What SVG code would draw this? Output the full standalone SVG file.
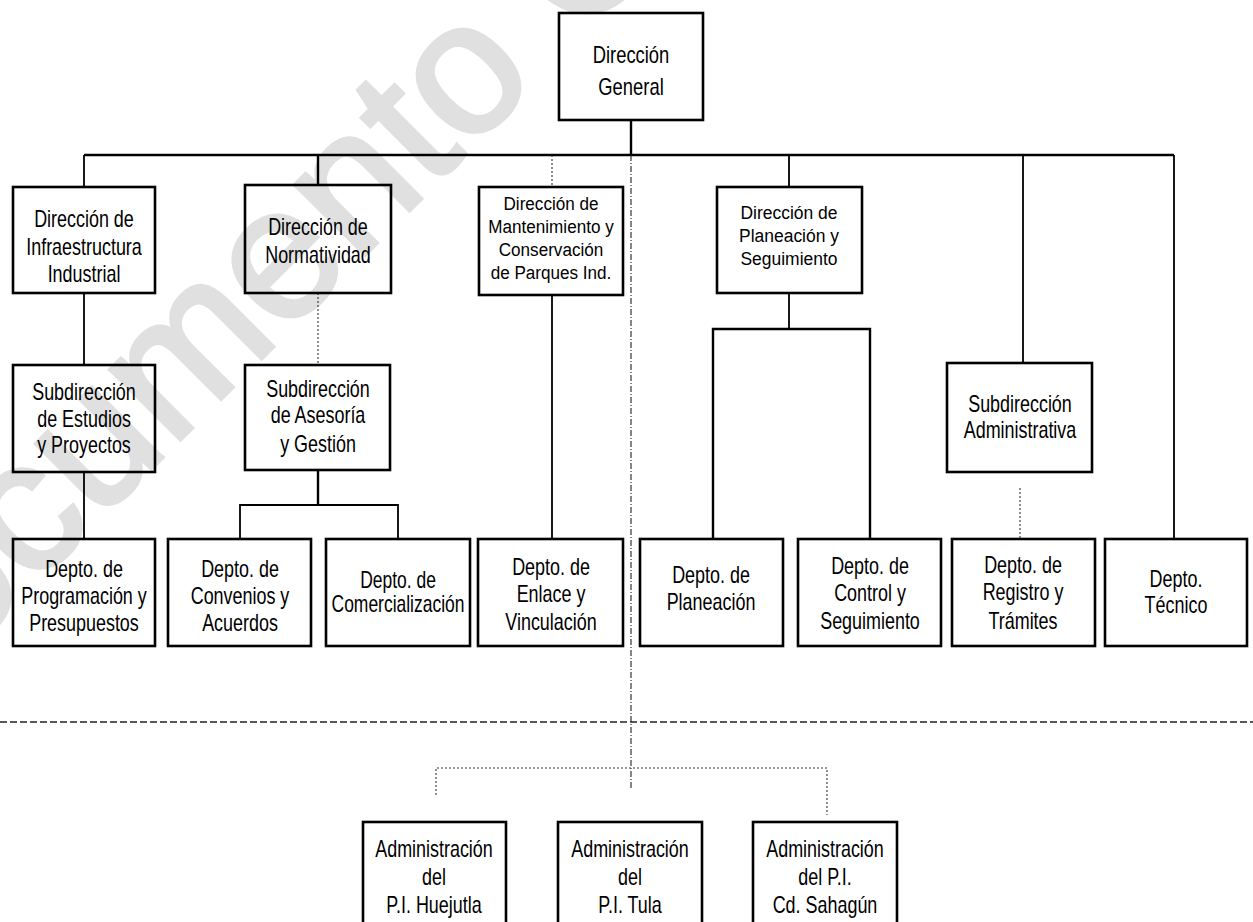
<svg xmlns="http://www.w3.org/2000/svg" width="1253" height="922" viewBox="0 0 1253 922">
<style>
.bg{fill:#ffffff}
.wm{font-family:"Liberation Sans",Arial,sans-serif;font-size:188px;fill:#e0e0e0;stroke:#e0e0e0;stroke-width:4}
.box{fill:none;stroke:#000;stroke-width:2.6}
.t{font-family:"Liberation Sans",Arial,sans-serif;font-size:23px;fill:#000;text-anchor:middle}
.t19{font-size:19px}
.c{fill:none;stroke:#000;stroke-width:2.4}
.c2{fill:none;stroke:#000;stroke-width:1.8}
.dot{fill:none;stroke:#333;stroke-width:1.1;stroke-dasharray:2 2}
.dash{fill:none;stroke:#222;stroke-width:1.4;stroke-dasharray:7 3}
.cl{fill:none;stroke:#222;stroke-width:1.1;stroke-dasharray:6 2 1 2}
</style>
<rect class="bg" x="0" y="0" width="1253" height="922"/>
<text class="wm" x="-139" y="759" transform="rotate(-45 -139 759)">Documento C</text>

<g id="connectors">
  <path class="c" d="M631 120V155M84 155H1174"/>
  <path class="c2" d="M84 155V187M789 155V187M1023 155V363M1174 155V539"/>
  <path class="c" d="M318 155V185"/>
  <path class="dot" d="M552 155V187"/>
  <path class="cl" d="M631 155V790"/>
  <path class="c2" d="M84 293V365M84 472V539"/>
  <path class="dot" d="M318 293V365"/>
  <path class="c" d="M318 470V505"/>
  <path class="c2" d="M240 539V505H398V539"/>
  <path class="c2" d="M552 295V539"/>
  <path class="c2" d="M789 293V329"/>
  <path class="c" d="M713 539V329H870V539"/>
  <path class="dot" d="M1020 488V539"/>
  <path class="dash" d="M0 722H1253"/>
  <path class="dot" d="M436 795V768H827V815"/>
</g>

<g id="direccion-general">
  <rect class="box" x="559" y="13" width="144" height="107"/>
  <text class="t" transform="translate(631 0) scale(0.8 1)"><tspan x="0" y="63">Dirección</tspan><tspan x="0" y="95">General</tspan></text>
</g>
<g id="dir-infraestructura">
  <rect class="box" x="13" y="187" width="142" height="106"/>
  <text class="t" transform="translate(84 0) scale(0.78 1)"><tspan x="0" y="227">Dirección de</tspan><tspan x="0" y="255">Infraestructura</tspan><tspan x="0" y="282">Industrial</tspan></text>
</g>
<g id="dir-normatividad">
  <rect class="box" x="245" y="185" width="146" height="108"/>
  <text class="t" transform="translate(318 0) scale(0.78 1)"><tspan x="0" y="235">Dirección de</tspan><tspan x="0" y="263">Normatividad</tspan></text>
</g>
<g id="dir-mantenimiento">
  <rect class="box" x="479" y="187" width="144" height="108"/>
  <text class="t t19" transform="translate(551 0) scale(0.9 1)"><tspan x="0" y="210">Dirección de</tspan><tspan x="0" y="233">Mantenimiento y</tspan><tspan x="0" y="256">Conservación</tspan><tspan x="0" y="279">de Parques Ind.</tspan></text>
</g>
<g id="dir-planeacion">
  <rect class="box" x="717" y="187" width="145" height="106"/>
  <text class="t t19" transform="translate(789 0) scale(0.92 1)"><tspan x="0" y="219">Dirección de</tspan><tspan x="0" y="242">Planeación y</tspan><tspan x="0" y="265">Seguimiento</tspan></text>
</g>
<g id="sub-estudios">
  <rect class="box" x="13" y="365" width="142" height="107"/>
  <text class="t" transform="translate(84 0) scale(0.78 1)"><tspan x="0" y="400">Subdirección</tspan><tspan x="0" y="427">de Estudios</tspan><tspan x="0" y="453">y Proyectos</tspan></text>
</g>
<g id="sub-asesoria">
  <rect class="box" x="245" y="365" width="145" height="105"/>
  <text class="t" transform="translate(318 0) scale(0.78 1)"><tspan x="0" y="397">Subdirección</tspan><tspan x="0" y="423">de Asesoría</tspan><tspan x="0" y="452">y Gestión</tspan></text>
</g>
<g id="sub-administrativa">
  <rect class="box" x="947" y="363" width="145" height="109"/>
  <text class="t" transform="translate(1020 0) scale(0.78 1)"><tspan x="0" y="412">Subdirección</tspan><tspan x="0" y="438">Administrativa</tspan></text>
</g>
<g id="depto-programacion">
  <rect class="box" x="13" y="539" width="142" height="107"/>
  <text class="t" transform="translate(84 0) scale(0.78 1)"><tspan x="0" y="577">Depto. de</tspan><tspan x="0" y="604">Programación y</tspan><tspan x="0" y="631">Presupuestos</tspan></text>
</g>
<g id="depto-convenios">
  <rect class="box" x="168" y="539" width="143" height="107"/>
  <text class="t" transform="translate(240 0) scale(0.78 1)"><tspan x="0" y="577">Depto. de</tspan><tspan x="0" y="604">Convenios y</tspan><tspan x="0" y="631">Acuerdos</tspan></text>
</g>
<g id="depto-comercializacion">
  <rect class="box" x="326" y="539" width="144" height="107"/>
  <text class="t" transform="translate(398 0) scale(0.76 1)"><tspan x="0" y="588">Depto. de</tspan><tspan x="0" y="612">Comercialización</tspan></text>
</g>
<g id="depto-enlace">
  <rect class="box" x="478" y="539" width="145" height="107"/>
  <text class="t" transform="translate(551 0) scale(0.78 1)"><tspan x="0" y="575">Depto. de</tspan><tspan x="0" y="602">Enlace y</tspan><tspan x="0" y="630">Vinculación</tspan></text>
</g>
<g id="depto-planeacion">
  <rect class="box" x="640" y="539" width="143" height="107"/>
  <text class="t" transform="translate(711 0) scale(0.78 1)"><tspan x="0" y="583">Depto. de</tspan><tspan x="0" y="610">Planeación</tspan></text>
</g>
<g id="depto-control">
  <rect class="box" x="798" y="539" width="143" height="107"/>
  <text class="t" transform="translate(870 0) scale(0.78 1)"><tspan x="0" y="574">Depto. de</tspan><tspan x="0" y="601">Control y</tspan><tspan x="0" y="629">Seguimiento</tspan></text>
</g>
<g id="depto-registro">
  <rect class="box" x="952" y="539" width="143" height="107"/>
  <text class="t" transform="translate(1023 0) scale(0.78 1)"><tspan x="0" y="573">Depto. de</tspan><tspan x="0" y="600">Registro y</tspan><tspan x="0" y="629">Trámites</tspan></text>
</g>
<g id="depto-tecnico">
  <rect class="box" x="1105" y="539" width="142" height="107"/>
  <text class="t" transform="translate(1176 0) scale(0.78 1)"><tspan x="0" y="587">Depto.</tspan><tspan x="0" y="613">Técnico</tspan></text>
</g>
<g id="admin-huejutla">
  <rect class="box" x="363" y="822" width="143" height="110"/>
  <text class="t" transform="translate(434 0) scale(0.78 1)"><tspan x="0" y="857">Administración</tspan><tspan x="0" y="885">del</tspan><tspan x="0" y="913">P.I. Huejutla</tspan></text>
</g>
<g id="admin-tula">
  <rect class="box" x="558" y="822" width="144" height="110"/>
  <text class="t" transform="translate(630 0) scale(0.78 1)"><tspan x="0" y="857">Administración</tspan><tspan x="0" y="885">del</tspan><tspan x="0" y="913">P.I. Tula</tspan></text>
</g>
<g id="admin-sahagun">
  <rect class="box" x="753" y="822" width="144" height="110"/>
  <text class="t" transform="translate(825 0) scale(0.78 1)"><tspan x="0" y="857">Administración</tspan><tspan x="0" y="885">del P.I.</tspan><tspan x="0" y="913">Cd. Sahagún</tspan></text>
</g>
</svg>
